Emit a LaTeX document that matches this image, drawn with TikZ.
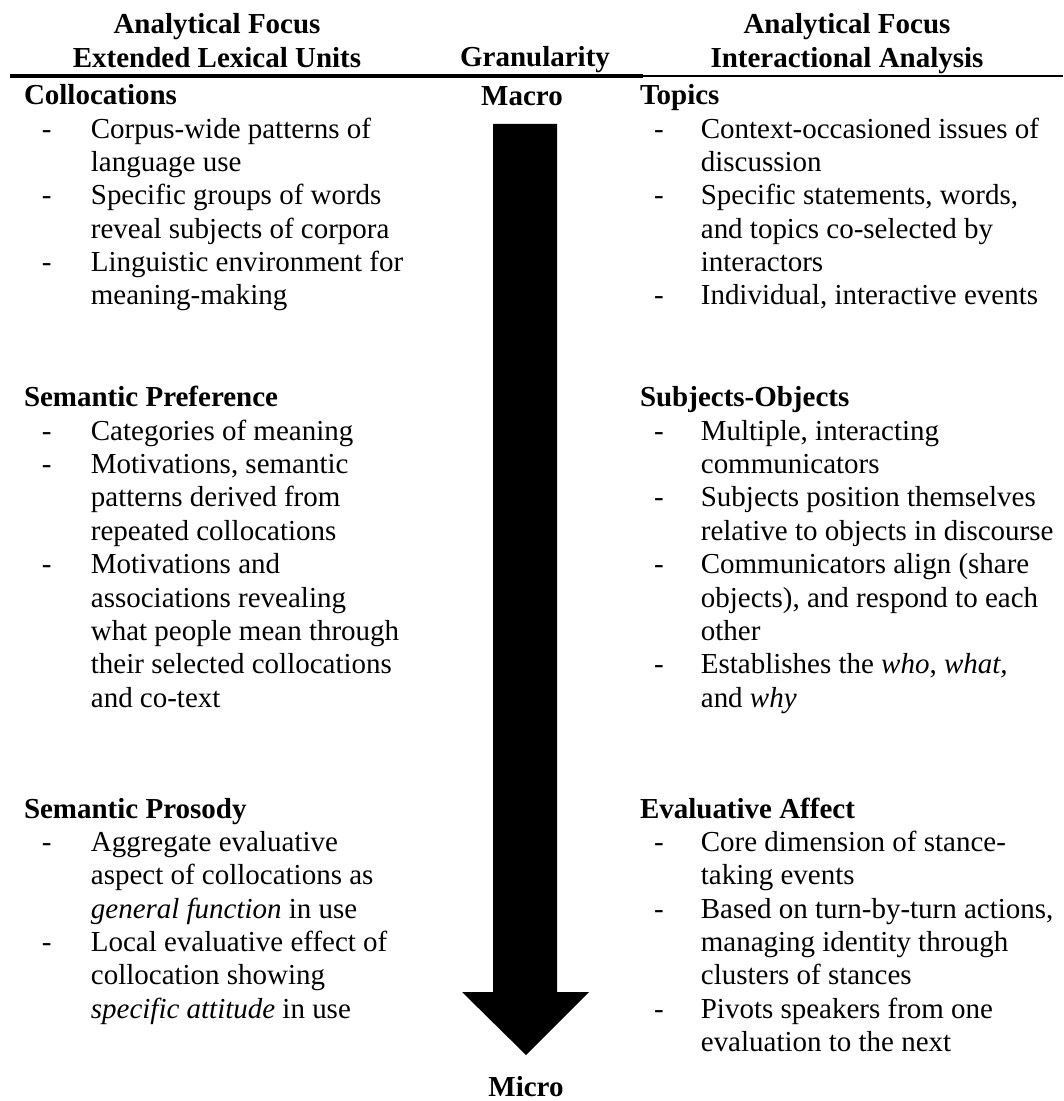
\documentclass[tikz,border=0pt]{standalone}
\usepackage{fontspec}
\setmainfont{Liberation Serif}
\newlength{\dashin}
\newlength{\itemin}
\newcommand{\dashline}[1]{\makebox[\itemin][l]{\hspace{\dashin}-}#1}
\newcommand{\moreline}[1]{\hspace*{\itemin}#1}

\begin{document}
\begin{tikzpicture}[x=0.414pt,y=-0.414pt,
    every node/.style={inner sep=0pt,outer sep=0pt,font=\fontsize{12pt}{13.8pt}\selectfont},
    head/.style={anchor=base,font=\fontsize{12pt}{13.8pt}\selectfont\bfseries},
    lexcol/.style={anchor=base west,execute at begin node={\setlength{\dashin}{7.4pt}\setlength{\itemin}{27.7pt}}},
    intcol/.style={anchor=base west,execute at begin node={\setlength{\dashin}{5.8pt}\setlength{\itemin}{25.2pt}}}]
\useasboundingbox (0,0) rectangle (1063,1101);

% column heads
\node[head] (lexhead) at (217,34) {\begin{tabular}[t]{@{}c@{}}Analytical Focus\\Extended Lexical Units\end{tabular}};
\node[head] (granhead) at (535,67) {Granularity};
\node[head] (inthead) at (847,34) {\begin{tabular}[t]{@{}c@{}}Analytical Focus\\Interactional Analysis\end{tabular}};
\draw[line width=1.25pt] (10,76) -- (643,76);
\draw[line width=1pt] (643,76) -- (1063,76);

% granularity arrow
\node[head] (macro) at (522,106) {Macro};
\node[head] (micro) at (526,1096) {Micro};
\fill (493,124) -- (557,124) -- (557,992) -- (589,992) -- (526,1055) -- (462,992) -- (493,992) -- cycle;

% extended lexical units
\node[lexcol] (colloc) at (24,105) {\begin{tabular}[t]{@{}l@{}}
\textbf{Collocations}\\
\dashline{Corpus-wide patterns of}\\
\moreline{language use}\\
\dashline{Specific groups of words}\\
\moreline{reveal subjects of corpora}\\
\dashline{Linguistic environment for}\\
\moreline{meaning-making}
\end{tabular}};
\node[lexcol] (sempref) at (24,407) {\begin{tabular}[t]{@{}l@{}}
\textbf{Semantic Preference}\\
\dashline{Categories of meaning}\\
\dashline{Motivations, semantic}\\
\moreline{patterns derived from}\\
\moreline{repeated collocations}\\
\dashline{Motivations and}\\
\moreline{associations revealing}\\
\moreline{what people mean through}\\
\moreline{their selected collocations}\\
\moreline{and co-text}
\end{tabular}};
\node[lexcol] (sempros) at (24,818) {\begin{tabular}[t]{@{}l@{}}
\textbf{Semantic Prosody}\\
\dashline{Aggregate evaluative}\\
\moreline{aspect of collocations as}\\
\moreline{\textit{general function} in use}\\
\dashline{Local evaluative effect of}\\
\moreline{collocation showing}\\
\moreline{\textit{specific attitude} in use}
\end{tabular}};

% interactional analysis
\node[intcol] (topics) at (640,105) {\begin{tabular}[t]{@{}l@{}}
\textbf{Topics}\\
\dashline{Context-occasioned issues of}\\
\moreline{discussion}\\
\dashline{Specific statements, words,}\\
\moreline{and topics co-selected by}\\
\moreline{interactors}\\
\dashline{Individual, interactive events}
\end{tabular}};
\node[intcol] (subjobj) at (640,407) {\begin{tabular}[t]{@{}l@{}}
\textbf{Subjects-Objects}\\
\dashline{Multiple, interacting}\\
\moreline{communicators}\\
\dashline{Subjects position themselves}\\
\moreline{relative to objects in discourse}\\
\dashline{Communicators align (share}\\
\moreline{objects), and respond to each}\\
\moreline{other}\\
\dashline{Establishes the \textit{who}, \textit{what,}}\\
\moreline{and \textit{why}}
\end{tabular}};
\node[intcol] (evalaff) at (640,818) {\begin{tabular}[t]{@{}l@{}}
\textbf{Evaluative Affect}\\
\dashline{Core dimension of stance-}\\
\moreline{taking events}\\
\dashline{Based on turn-by-turn actions,}\\
\moreline{managing identity through}\\
\moreline{clusters of stances}\\
\dashline{Pivots speakers from one}\\
\moreline{evaluation to the next}
\end{tabular}};
\end{tikzpicture}
\end{document}
